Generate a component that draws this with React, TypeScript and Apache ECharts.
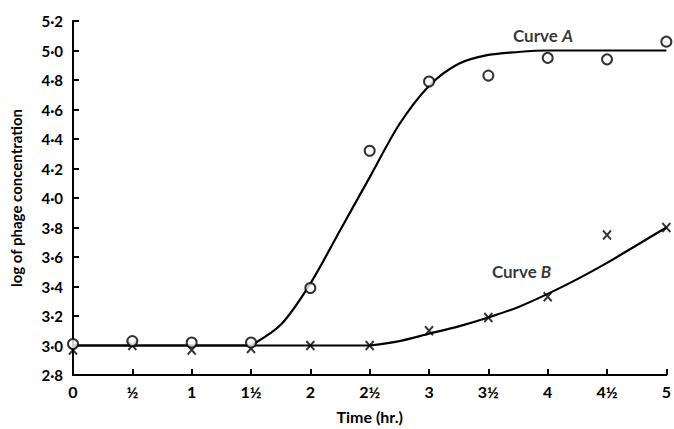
import React, { useEffect, useRef } from "react";
import * as echarts from "echarts";

const times = [0, 0.5, 1, 1.5, 2, 2.5, 3, 3.5, 4, 4.5, 5];
const obsA = [3.01, 3.03, 3.02, 3.02, 3.39, 4.32, 4.79, 4.83, 4.95, 4.94, 5.06];
const obsB = [2.97, 3.0, 2.97, 2.98, 3.0, 3.0, 3.1, 3.19, 3.33, 3.75, 3.8];

// fitted curves
const curveAFlatT = [0, 1.5];
const curveAFlatV = [3, 3];
const curveART = [1.5, 1.75, 2, 2.25, 2.5, 2.75, 3, 3.25, 3.5, 3.75, 4, 4.25, 4.5, 4.75, 5];
const curveARV = [3, 3.14, 3.42, 3.78, 4.14, 4.5, 4.76, 4.91, 4.97, 4.99, 5, 5, 5, 5, 5];
const curveBFlatT = [0, 2.5];
const curveBFlatV = [3, 3];
const curveBRT = [2.5, 2.75, 3, 3.25, 3.5, 3.75, 4, 4.25, 4.5, 4.75, 5];
const curveBRV = [3, 3.03, 3.08, 3.13, 3.19, 3.26, 3.35, 3.45, 3.56, 3.68, 3.8];

const xTickLabels: Record<string, string> = {
  "0": "0", "0.5": "½", "1": "1", "1.5": "1½", "2": "2", "2.5": "2½",
  "3": "3", "3.5": "3½", "4": "4", "4.5": "4½", "5": "5",
};
const annotations = [
  { name: "A", t: 3.96, v: 5.1 },
  { name: "B", t: 3.78, v: 3.5 },
];

const FONT = "Lato";
const CROSS = "path://M0,0L10,10M10,0L0,10";

function lineSeries(ts: number[], vs: number[], smooth: number | boolean) {
  return {
    type: "line",
    data: ts.map((t, i) => [t, vs[i]]),
    smooth,
    showSymbol: false,
    lineStyle: { color: "#000", width: 2.2 },
    z: 2,
  };
}

export default function App() {
  const ref = useRef<HTMLDivElement>(null);
  useEffect(() => {
    if (!ref.current) return;
    const chart = echarts.init(ref.current, undefined, { renderer: "svg" });
    chart.setOption({
      animation: false,
      backgroundColor: "#ffffff",
      textStyle: { fontFamily: FONT, color: "#000" },
      grid: { left: 68, right: 5, top: 21, bottom: 48, containLabel: false },
      xAxis: {
        type: "value",
        min: 0,
        max: 5,
        interval: 0.5,
        name: "Time (hr.)",
        nameLocation: "middle",
        nameGap: 33,
        nameTextStyle: { fontFamily: FONT, fontSize: 16, fontWeight: "bold", color: "#000" },
        axisLine: { lineStyle: { color: "#000", width: 2 } },
        axisTick: { inside: true, length: 6, lineStyle: { color: "#000", width: 2 } },
        axisLabel: {
          fontFamily: FONT, fontSize: 16, fontWeight: "bold", color: "#000", margin: 8,
          formatter: (v: number) => xTickLabels[String(v)] ?? String(v),
        },
        splitLine: { show: false },
      },
      yAxis: {
        type: "value",
        min: 2.8,
        max: 5.2,
        interval: 0.2,
        name: "log of phage concentration",
        nameLocation: "middle",
        nameGap: 50,
        nameRotate: 90,
        nameTextStyle: { fontFamily: FONT, fontSize: 15, fontWeight: "bold", color: "#000" },
        axisLine: { show: true, lineStyle: { color: "#000", width: 2 } },
        axisTick: { show: true, inside: true, length: 6, lineStyle: { color: "#000", width: 2 } },
        axisLabel: {
          fontFamily: FONT, fontSize: 15, fontWeight: "bold", color: "#000", margin: 10,
          formatter: (v: number) => v.toFixed(1).replace(".", "·"),
        },
        splitLine: { show: false },
      },
      series: [
        lineSeries(curveAFlatT, curveAFlatV, false),
        lineSeries(curveART, curveARV, 0.3),
        lineSeries(curveBFlatT, curveBFlatV, false),
        lineSeries(curveBRT, curveBRV, 0.3),
        {
          type: "scatter",
          data: times.map((t, i) => [t, obsA[i]]),
          symbol: "emptyCircle",
          symbolSize: 10,
          itemStyle: { color: "#000", borderColor: "#000", borderWidth: 2 },
          z: 4,
        },
        {
          type: "scatter",
          data: times.map((t, i) => [t, obsB[i]]),
          symbol: CROSS,
          symbolSize: [8, 9],
          itemStyle: { color: "none", borderColor: "#000", borderWidth: 2 },
          z: 3,
        },
        {
          type: "scatter",
          data: annotations.map((a) => ({ value: [a.t, a.v], name: a.name })),
          symbolSize: 0,
          silent: true,
          label: {
            show: true,
            position: "inside",
            formatter: (p: any) => `{n|Curve }{i|${p.name}}`,
            rich: {
              n: { fontFamily: FONT, fontSize: 17, fontWeight: "bold", color: "#000" },
              i: { fontFamily: FONT, fontSize: 17, fontWeight: "bold", fontStyle: "italic", color: "#000" },
            },
          },
          z: 5,
        },
      ],
    });
    return () => chart.dispose();
  }, []);
  return (
    <div
      ref={ref}
      style={{ position: "fixed", left: 0, top: 0, width: 674, height: 429, background: "#fff" }}
    />
  );
}
